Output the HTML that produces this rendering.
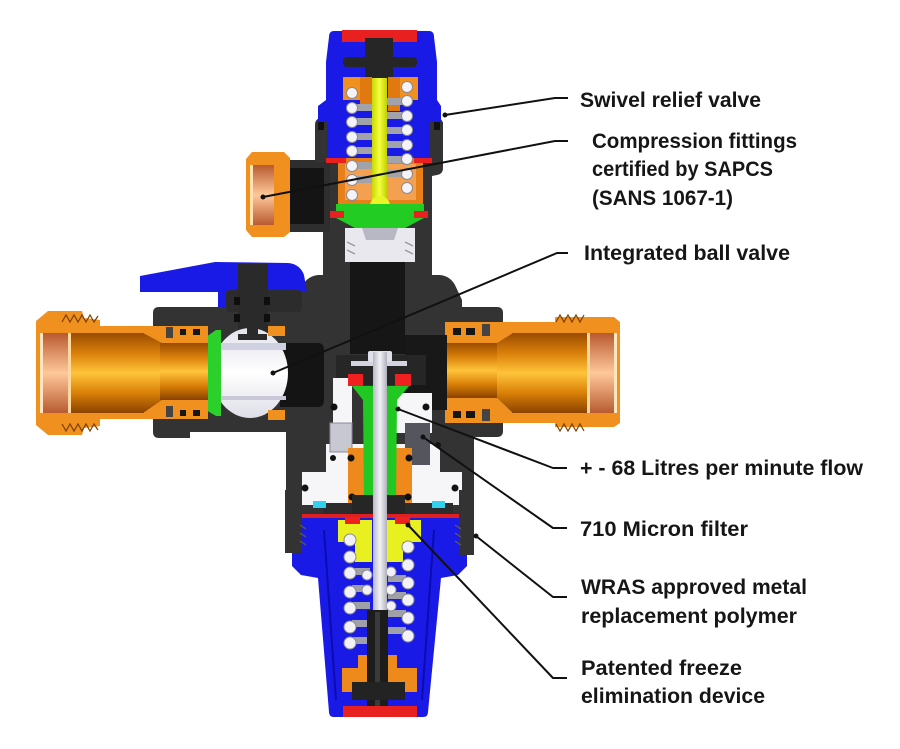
<!DOCTYPE html>
<html><head><meta charset="utf-8">
<style>
html,body{margin:0;padding:0;background:#fff;}
svg{display:block;}
text{font-family:"Liberation Sans",Arial,sans-serif;font-weight:bold;fill:#161616;font-size:21px;}
</style></head><body>
<svg width="900" height="749" viewBox="0 0 900 749" xmlns="http://www.w3.org/2000/svg">
<defs>
<linearGradient id="brass" x1="0" y1="0" x2="0" y2="1">
 <stop offset="0" stop-color="#9a4c00"/>
 <stop offset="0.25" stop-color="#d97f0a"/>
 <stop offset="0.5" stop-color="#ffc43a"/>
 <stop offset="0.75" stop-color="#d98008"/>
 <stop offset="1" stop-color="#8a4200"/>
</linearGradient>
<linearGradient id="copper" x1="0" y1="0" x2="0" y2="1">
 <stop offset="0" stop-color="#b85a30"/>
 <stop offset="0.5" stop-color="#ffc89a"/>
 <stop offset="1" stop-color="#b85a30"/>
</linearGradient>
<linearGradient id="ball" x1="0" y1="0" x2="0" y2="1">
 <stop offset="0" stop-color="#e2e2ec"/>
 <stop offset="0.5" stop-color="#ffffff"/>
 <stop offset="1" stop-color="#dedee8"/>
</linearGradient>
<linearGradient id="stem" x1="0" y1="0" x2="1" y2="0">
 <stop offset="0" stop-color="#b8b8c4"/>
 <stop offset="0.5" stop-color="#f2f2f6"/>
 <stop offset="1" stop-color="#b0b0bc"/>
</linearGradient>
<linearGradient id="yrod" x1="0" y1="0" x2="1" y2="0">
 <stop offset="0" stop-color="#c8d800"/>
 <stop offset="0.5" stop-color="#f4ff40"/>
 <stop offset="1" stop-color="#c0d000"/>
</linearGradient>
<clipPath id="ballclip"><rect x="216" y="320" width="80" height="110"/></clipPath>
</defs>

<rect width="900" height="749" fill="#fff"/>

<!-- ===== Main body ===== -->
<path d="M318,275 L440,275 Q450,276 455,285 L462,300 L462,307 L497,307 Q503,307 503,313 L503,431 Q503,437 497,437 L474,437 L474,553 L286,553 L286,432 L190,432 L190,438 L159,438 Q153,438 153,432 L153,313 Q153,307 159,307 L222,307 L222,296 Q222,290 228,290 L300,290 Q306,276 318,275 Z" fill="#333"/>

<!-- relief housing -->
<path d="M322,118 L436,118 Q443,118 443,125 L443,168 Q443,174 437,175 L432,176 L432,280 L323,280 L323,232 L315,232 L315,125 Q315,118 322,118 Z" fill="#333"/>
<rect x="286" y="160" width="44" height="72" fill="#2e2e2e"/>
<rect x="272" y="168" width="52" height="56" fill="#141414"/>

<!-- small side fitting -->
<path d="M252,152 L284,152 L290,158 L290,232 L284,237 L252,237 L246,230 L246,159 Z" fill="#f0901e"/>
<rect x="250" y="165" width="24" height="60" fill="url(#copper)"/>
<rect x="250" y="165" width="3" height="60" fill="#ffe0b0"/>

<!-- blue relief cap -->
<path d="M334,31 L429,31 Q434,31 434,37 L437,62 L437,100 L441,106 L441,122 L318,122 L318,106 L326,100 L326,62 L329,37 Q329,31 334,31 Z" fill="#1a1ae6"/>
<rect x="327" y="118" width="103" height="44" fill="#1a1ae6"/>
<rect x="342" y="30" width="75" height="12" fill="#e82020"/>
<rect x="343" y="57" width="74" height="10" rx="4" fill="#262626"/>
<rect x="365" y="38" width="28" height="44" fill="#262626"/>
<rect x="316" y="122" width="11" height="40" fill="#333"/>
<rect x="430" y="122" width="13" height="40" fill="#333"/>
<rect x="318" y="122" width="6" height="8" fill="#111"/>
<rect x="434" y="122" width="6" height="8" fill="#111"/>

<!-- orange seats -->
<rect x="343" y="77" width="20" height="23" fill="#f0901e"/>
<rect x="397" y="77" width="21" height="23" fill="#f0901e"/>
<rect x="360" y="77" width="12" height="34" fill="#e07a10"/>
<rect x="388" y="77" width="12" height="34" fill="#e07a10"/>

<!-- orange piston -->
<rect x="338" y="158" width="85" height="48" fill="#e8801a"/>
<rect x="345" y="164" width="71" height="36" fill="#f3a050"/>
<rect x="326" y="158" width="20" height="5" fill="#e82020"/>
<rect x="414" y="158" width="18" height="5" fill="#e82020"/>

<!-- springs (relief) -->
<g fill="#a2a2aa">
<rect x="352" y="104" width="20" height="7"/><rect x="352" y="118" width="20" height="7"/><rect x="352" y="133" width="20" height="7"/>
<rect x="352" y="147" width="20" height="7"/><rect x="352" y="162" width="20" height="7"/><rect x="352" y="176" width="20" height="7"/>
<rect x="387" y="98" width="19" height="7"/><rect x="387" y="112" width="19" height="7"/><rect x="387" y="127" width="19" height="7"/>
<rect x="387" y="141" width="19" height="7"/><rect x="387" y="156" width="19" height="7"/><rect x="387" y="170" width="19" height="7"/>
</g>
<g fill="#f4f4f8" stroke="#8a8a94" stroke-width="1">
<circle cx="352" cy="93" r="5.5"/><circle cx="352" cy="108" r="5.5"/><circle cx="352" cy="122" r="5.5"/><circle cx="352" cy="137" r="5.5"/>
<circle cx="352" cy="151" r="5.5"/><circle cx="352" cy="166" r="5.5"/><circle cx="352" cy="180" r="5.5"/><circle cx="352" cy="195" r="5.5"/>
<circle cx="407" cy="87" r="5.5"/><circle cx="407" cy="101" r="5.5"/><circle cx="407" cy="116" r="5.5"/><circle cx="407" cy="130" r="5.5"/>
<circle cx="407" cy="145" r="5.5"/><circle cx="407" cy="159" r="5.5"/><circle cx="407" cy="174" r="5.5"/><circle cx="407" cy="188" r="5.5"/>
</g>

<!-- yellow rod -->
<rect x="372" y="78" width="15" height="128" fill="url(#yrod)"/>
<circle cx="380" cy="206" r="10" fill="#e8f428"/>

<!-- green + red -->
<path d="M336,204 L424,204 L424,218 L405,228 L355,228 L336,218 Z" fill="#22cc22"/>
<rect x="330" y="211" width="14" height="7" fill="#e82020"/>
<rect x="414" y="211" width="14" height="7" fill="#e82020"/>

<!-- neck insert and channel -->
<rect x="345" y="228" width="70" height="34" fill="#e8e8ee"/>
<path d="M362,228 L398,228 L394,240 L366,240 Z" fill="#b8b8c4"/>
<g stroke="#9a9aa6" stroke-width="1.5">
<line x1="347" y1="242" x2="355" y2="246"/><line x1="347" y1="250" x2="355" y2="254"/>
<line x1="405" y1="242" x2="413" y2="246"/><line x1="405" y1="250" x2="413" y2="254"/>
</g>
<rect x="350" y="262" width="55" height="92" fill="#161616"/>

<!-- ===== Blue ball handle ===== -->
<path d="M140,276 L215,262 L288,263 Q300,264 304,275 L307,292 L140,292 Z" fill="#1a1ae6"/>
<rect x="218" y="290" width="8" height="17" fill="#1a1ae6"/>
<rect x="226" y="290" width="76" height="22" rx="4" fill="#2c2c2c"/>
<rect x="238" y="264" width="30" height="76" fill="#2a2a2a"/>
<g fill="#0e0e0e">
<rect x="234" y="297" width="6" height="8"/><rect x="264" y="297" width="6" height="8"/>
<rect x="234" y="314" width="6" height="8"/><rect x="264" y="314" width="6" height="8"/>
</g>

<!-- ===== Ball valve ===== -->
<path d="M280,343 L318,343 Q324,343 324,350 L324,400 Q324,407 318,407 L280,407 Z" fill="#141414"/>
<ellipse cx="250" cy="373" rx="38" ry="45" fill="url(#ball)" clip-path="url(#ballclip)"/>
<rect x="216" y="343" width="70" height="7" fill="#cfd0e0"/>
<rect x="216" y="396" width="70" height="4" fill="#c8c8d8"/>
<rect x="238" y="334" width="29" height="6" fill="#2a2a2a"/>
<rect x="247" y="326" width="11" height="10" fill="#2a2a2a"/>
<path d="M206,337 L216,330 L221,330 L221,416 L216,416 L206,410 Z" fill="#2bd02b"/>
<rect x="268" y="326" width="17" height="10" fill="#f0901e"/>
<rect x="268" y="410" width="17" height="10" fill="#f0901e"/>

<!-- ===== Left pipe ===== -->
<rect x="100" y="326" width="108" height="93" fill="#f0901e"/>
<path d="M48,311 L82,311 L84,318 L100,320 L100,426 L84,428 L82,435 L48,435 L36,425 L36,321 Z" fill="#f0901e"/>
<polyline points="62,322 66,315 70,322 74,315 78,322 82,315 86,322 90,315 94,322 98,316" fill="none" stroke="#7a4000" stroke-width="1.2"/>
<polyline points="62,424 66,431 70,424 74,431 78,424 82,431 86,424 90,431 94,424 98,430" fill="none" stroke="#7a4000" stroke-width="1.2"/>
<rect x="40" y="333" width="104" height="80" fill="url(#brass)"/>
<path d="M143,333 L162,343 L162,400 L143,413 Z" fill="url(#brass)"/>
<rect x="160" y="343" width="48" height="57" fill="url(#brass)"/>
<rect x="40" y="333" width="30" height="80" fill="url(#copper)"/>
<rect x="40" y="333" width="3" height="80" fill="#ffe6c0"/>
<rect x="68" y="333" width="3" height="80" fill="#ffd8a0"/>
<g fill="#161616">
<rect x="180" y="329" width="6" height="6"/><rect x="193" y="329" width="7" height="6"/>
<rect x="180" y="410" width="6" height="6"/><rect x="193" y="410" width="7" height="6"/>
</g>
<rect x="166" y="327" width="7" height="11" fill="#444"/>
<rect x="166" y="406" width="7" height="11" fill="#444"/>

<!-- ===== Right pipe ===== -->
<rect x="445" y="322" width="112" height="101" fill="#f0901e"/>
<path d="M555,317 L614,317 L620,322 L620,423 L614,427 L555,427 Z" fill="#f0901e"/>
<polyline points="556,322 560,315 564,322 568,315 572,322 576,315 580,322 584,315" fill="none" stroke="#7a4000" stroke-width="1.2"/>
<polyline points="556,424 560,431 564,424 568,431 572,424 576,431 580,424 584,431" fill="none" stroke="#7a4000" stroke-width="1.2"/>
<rect x="445" y="343" width="53" height="55" fill="url(#brass)"/>
<path d="M497,343 L513,333 L513,413 L497,398 Z" fill="url(#brass)"/>
<rect x="512" y="333" width="105" height="80" fill="url(#brass)"/>
<rect x="587" y="333" width="30" height="80" fill="url(#copper)"/>
<rect x="587" y="333" width="3" height="80" fill="#ffd8a0"/>
<rect x="614" y="333" width="3" height="80" fill="#ffe6c0"/>
<g fill="#161616">
<rect x="453" y="328" width="8" height="7"/><rect x="466" y="328" width="9" height="7"/>
<rect x="453" y="411" width="8" height="7"/><rect x="466" y="411" width="9" height="7"/>
</g>
<rect x="482" y="324" width="8" height="12" fill="#444"/>
<rect x="482" y="409" width="8" height="12" fill="#444"/>

<!-- right channel -->
<rect x="405" y="335" width="42" height="75" fill="#181818"/>

<!-- ===== Central cartridge cavity ===== -->
<rect x="336" y="355" width="90" height="30" fill="#262626"/>
<g fill="#f6f6f8">
<rect x="333" y="378" width="19" height="66"/>
<rect x="395" y="393" width="37" height="40"/>
<rect x="326" y="444" width="114" height="30"/>
<rect x="302" y="472" width="160" height="33"/>
</g>
<rect x="330" y="423" width="22" height="29" fill="#c8c8d2" stroke="#8a8a94" stroke-width="1"/>
<rect x="405" y="423" width="25" height="42" fill="#55555d"/>
<rect x="348" y="448" width="19" height="57" fill="#ee8a1c"/>
<rect x="392" y="448" width="20" height="57" fill="#ee8a1c"/>
<rect x="348" y="374" width="15" height="12" fill="#ee2020"/>
<rect x="395" y="374" width="16" height="12" fill="#ee2020"/>
<path d="M352,386 L409,386 L397,400 L396,502 L364,502 L363,400 Z" fill="#22c822"/>
<rect x="351" y="361" width="56" height="5" fill="#d4d4de"/>
<rect x="368" y="351" width="24" height="11" rx="2" fill="#e0e0ea"/>
<g fill="#111">
<circle cx="334" cy="407" r="3.5"/><circle cx="426" cy="407" r="3.5"/>
<circle cx="351" cy="458" r="3.5"/><circle cx="409" cy="458" r="3.5"/>
<circle cx="352" cy="497" r="3.5"/><circle cx="408" cy="497" r="3.5"/>
<circle cx="305" cy="488" r="3.5"/><circle cx="455" cy="488" r="3.5"/>
<circle cx="333" cy="458" r="3"/><circle cx="438" cy="445" r="3"/>
</g>
<path d="M323,503 L453,503 L453,517 L323,517 Z" fill="#2c2c2c"/>
<rect x="352" y="495" width="53" height="25" fill="#262626"/>
<rect x="313" y="501" width="13" height="7" fill="#30d0ee"/>
<rect x="432" y="501" width="13" height="7" fill="#30d0ee"/>

<!-- ===== Lower blue cap ===== -->
<path d="M292,517 L467,517 L467,566 L458,575 L441,578 L428,712 Q428,717 423,717 L334,717 Q329,717 329,712 L318,578 L301,575 L292,566 Z" fill="#1a1ae6"/>
<path d="M324,530 L336,700 M434,530 L422,700" stroke="#0c0cb0" stroke-width="2" fill="none"/>
<rect x="294" y="514" width="172" height="4" fill="#e02020"/>
<!-- skirts -->
<rect x="285" y="490" width="17" height="63" fill="#333"/>
<rect x="459" y="490" width="15" height="65" fill="#333"/>
<g stroke="#555" stroke-width="1.5">
<line x1="300" y1="525" x2="306" y2="529"/><line x1="300" y1="533" x2="306" y2="537"/><line x1="300" y1="541" x2="306" y2="545"/>
<line x1="455" y1="525" x2="461" y2="529"/><line x1="455" y1="533" x2="461" y2="537"/><line x1="455" y1="541" x2="461" y2="545"/>
</g>

<!-- yellow parts -->
<path d="M338,520 L372,520 L372,562 L355,562 L355,542 L338,542 Z" fill="#e8f020"/>
<path d="M386,520 L421,520 L421,542 L403,542 L403,562 L386,562 Z" fill="#e8f020"/>
<rect x="345" y="517" width="15" height="7" fill="#ee2020"/>
<rect x="395" y="517" width="15" height="7" fill="#ee2020"/>

<!-- lower springs -->
<g fill="#a0a0a8">
<rect x="352" y="568" width="18" height="7"/><rect x="352" y="585" width="18" height="7"/><rect x="352" y="602" width="18" height="7"/>
<rect x="352" y="620" width="18" height="7"/><rect x="352" y="637" width="18" height="7"/>
<rect x="388" y="575" width="18" height="7"/><rect x="388" y="592" width="18" height="7"/><rect x="388" y="610" width="18" height="7"/>
<rect x="388" y="627" width="18" height="7"/>
</g>
<g fill="#f2f2f6" stroke="#8a8a94" stroke-width="1">
<circle cx="350" cy="540" r="6"/><circle cx="350" cy="557" r="6"/><circle cx="350" cy="573" r="6"/><circle cx="350" cy="592" r="6"/>
<circle cx="350" cy="608" r="6"/><circle cx="350" cy="627" r="6"/><circle cx="350" cy="643" r="6"/>
<circle cx="408" cy="547" r="6"/><circle cx="408" cy="565" r="6"/><circle cx="408" cy="583" r="6"/><circle cx="408" cy="600" r="6"/>
<circle cx="408" cy="618" r="6"/><circle cx="408" cy="636" r="6"/>
<circle cx="367" cy="575" r="5"/><circle cx="367" cy="590" r="5"/><circle cx="391" cy="572" r="5"/><circle cx="391" cy="590" r="5"/><circle cx="391" cy="606" r="5"/>
</g>

<!-- stem -->
<rect x="373" y="352" width="14" height="260" fill="url(#stem)"/>
<rect x="367" y="610" width="21" height="98" fill="#1c1c1c"/>
<rect x="375" y="612" width="5" height="94" fill="#3a3a3a"/>

<!-- orange nut -->
<path d="M342,668 L358,668 L358,655 L367,655 L367,692 L342,692 Z" fill="#ee8a1c"/>
<path d="M388,655 L397,655 L397,668 L417,668 L417,692 L388,692 Z" fill="#ee8a1c"/>
<rect x="352" y="682" width="53" height="18" fill="#232323"/>
<rect x="343" y="706" width="74" height="11" fill="#e82020"/>

<!-- ===== Leader lines ===== -->
<g stroke="#111" stroke-width="2" fill="none" stroke-linejoin="round">
<polyline points="445,115 555,98 568,98"/>
<polyline points="263,197 555,141 568,141"/>
<polyline points="273,373 557,253 568,253"/>
<polyline points="398,409 553,468 567,468"/>
<polyline points="423,437 553,528 567,528"/>
<polyline points="476,536 553,597 567,597"/>
<polyline points="408,525 553,678 567,678"/>
</g>
<g fill="#111">
<circle cx="445" cy="115" r="2.5"/><circle cx="263" cy="197" r="2.5"/><circle cx="273" cy="373" r="2.5"/>
<circle cx="398" cy="409" r="2.5"/><circle cx="423" cy="437" r="2.5"/><circle cx="476" cy="536" r="2.5"/><circle cx="408" cy="525" r="2.5"/>
</g>

<!-- ===== Labels ===== -->
<text x="580" y="107" textLength="181" lengthAdjust="spacingAndGlyphs">Swivel relief valve</text>
<text x="592" y="148" textLength="205" lengthAdjust="spacingAndGlyphs">Compression fittings</text>
<text x="592" y="176" textLength="181" lengthAdjust="spacingAndGlyphs">certified by SAPCS</text>
<text x="592" y="205" textLength="141" lengthAdjust="spacingAndGlyphs">(SANS 1067-1)</text>
<text x="584" y="260" textLength="206" lengthAdjust="spacingAndGlyphs">Integrated ball valve</text>
<text x="580" y="475" textLength="283" lengthAdjust="spacingAndGlyphs">+ - 68 Litres per minute flow</text>
<text x="580" y="536" textLength="168" lengthAdjust="spacingAndGlyphs">710 Micron filter</text>
<text x="581" y="594" textLength="226" lengthAdjust="spacingAndGlyphs">WRAS approved metal</text>
<text x="581" y="623" textLength="216" lengthAdjust="spacingAndGlyphs">replacement polymer</text>
<text x="581" y="675" textLength="161" lengthAdjust="spacingAndGlyphs">Patented freeze</text>
<text x="581" y="703" textLength="184" lengthAdjust="spacingAndGlyphs">elimination device</text>
</svg>
</body></html>
